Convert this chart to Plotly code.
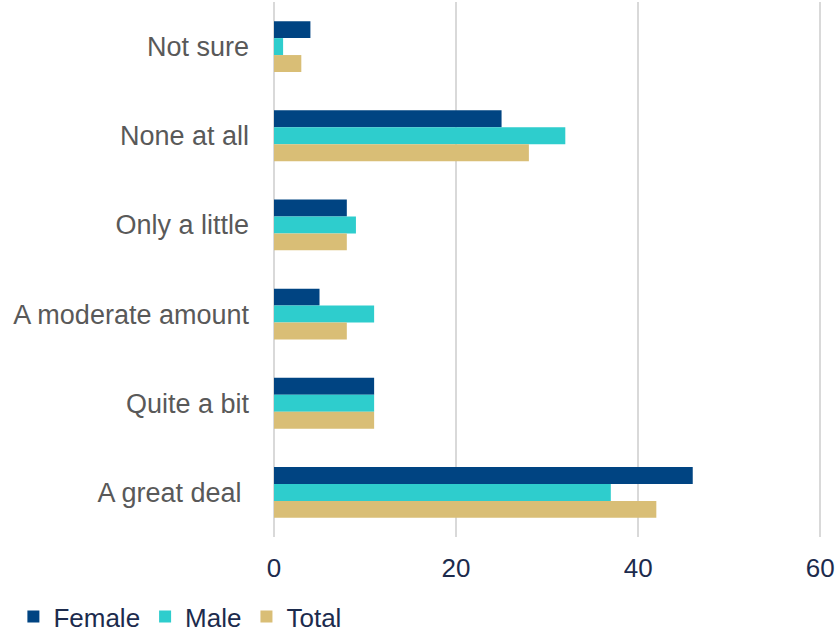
import plotly.graph_objects as go

categories = ["Not sure", "None at all", "Only a little", "A moderate amount", "Quite a bit", "A great deal "]
female = [4, 25, 8, 5, 11, 46]
male = [1, 32, 9, 11, 11, 37]
total = [3, 28, 8, 8, 11, 42]
x_ticks = [0, 20, 40, 60]

series = [("Female", female, "#004482"), ("Male", male, "#2ecdcd"), ("Total", total, "#d9be76")]

fig = go.Figure()
for name, vals, col in series:
    fig.add_trace(go.Bar(
        y=categories, x=vals, name=name, orientation="h",
        marker=dict(color=col, line=dict(width=0)),
    ))

fig.update_layout(
    width=837, height=633,
    barmode="group", bargap=0.43, bargroupgap=0,
    plot_bgcolor="white", paper_bgcolor="white",
    margin=dict(l=274, r=15, t=2, b=96, autoexpand=False),
    font=dict(family="Liberation Sans, Arial, sans-serif", size=27, color="#595959"),
    xaxis=dict(range=[0, 60.2], tickvals=x_ticks, showgrid=True, gridcolor="#d9d9d9", gridwidth=2,
               zeroline=True, zerolinecolor="#d9d9d9", zerolinewidth=2, showline=False, ticks="",
               tickfont=dict(size=26, color="#1c2b4d"), ticklabelstandoff=13, automargin=False),
    yaxis=dict(categoryorder="array", categoryarray=categories, range=[5.5, -0.5],
               showgrid=False, showline=False, ticks="", ticklabelstandoff=24, automargin=False,
               tickfont=dict(size=27, color="#595959")),
    legend=dict(orientation="h", x=0.016, y=-0.149, xref="container", yref="paper",
                xanchor="left", yanchor="middle", font=dict(size=26, color="#1c2b4d"),
                itemwidth=30, traceorder="normal"),
)

# remove the default page margin so the figure fills the window exactly
fig.write_html("out.html", config={"displayModeBar": False},
               post_script="document.body.style.margin='0';")
